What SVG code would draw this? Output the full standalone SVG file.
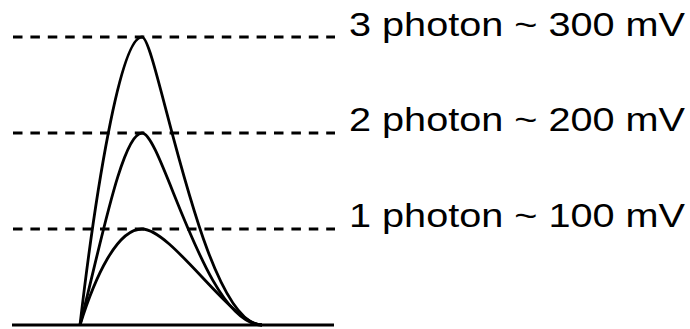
<svg xmlns="http://www.w3.org/2000/svg" width="690" height="329" viewBox="0 0 690 329">
<style>
.dash{stroke:#000;stroke-width:3;stroke-dasharray:9.5 7.9;fill:none}
.pulse{stroke:#000;stroke-width:2.8;fill:none}
.base{stroke:#000;stroke-width:3.2;fill:none}
.lbl{font-family:"Liberation Sans",Arial,Helvetica,sans-serif;font-size:34px;fill:#000}
</style>
<rect width="690" height="329" fill="#fff"/>
<g id="levels">
<line class="dash" x1="13" y1="37" x2="335" y2="37"/>
<line class="dash" x1="13" y1="133" x2="335" y2="133"/>
<line class="dash" x1="13" y1="229" x2="335" y2="229"/>
</g>
<g id="baseline">
<line class="base" x1="12" y1="325" x2="334" y2="325"/>
</g>
<g id="pulse-1">
<path class="pulse" d="M80,325 C95,277 117,229 142,229 C172,229 232,325 262,325"/>
</g>
<g id="pulse-2">
<path class="pulse" d="M80,325 C100,248 122,133 142,133 C162,133 205,325 262,325"/>
</g>
<g id="pulse-3">
<path class="pulse" d="M80,325 C95,196 120,37 142,37 C157,37 202,325 262,325"/>
</g>
<g id="label-3">
<text class="lbl" x="349" y="36" textLength="336" lengthAdjust="spacingAndGlyphs">3 photon ~ 300 mV</text>
</g>
<g id="label-2">
<text class="lbl" x="349" y="131" textLength="336" lengthAdjust="spacingAndGlyphs">2 photon ~ 200 mV</text>
</g>
<g id="label-1">
<text class="lbl" x="349" y="227" textLength="336" lengthAdjust="spacingAndGlyphs">1 photon ~ 100 mV</text>
</g>
</svg>
